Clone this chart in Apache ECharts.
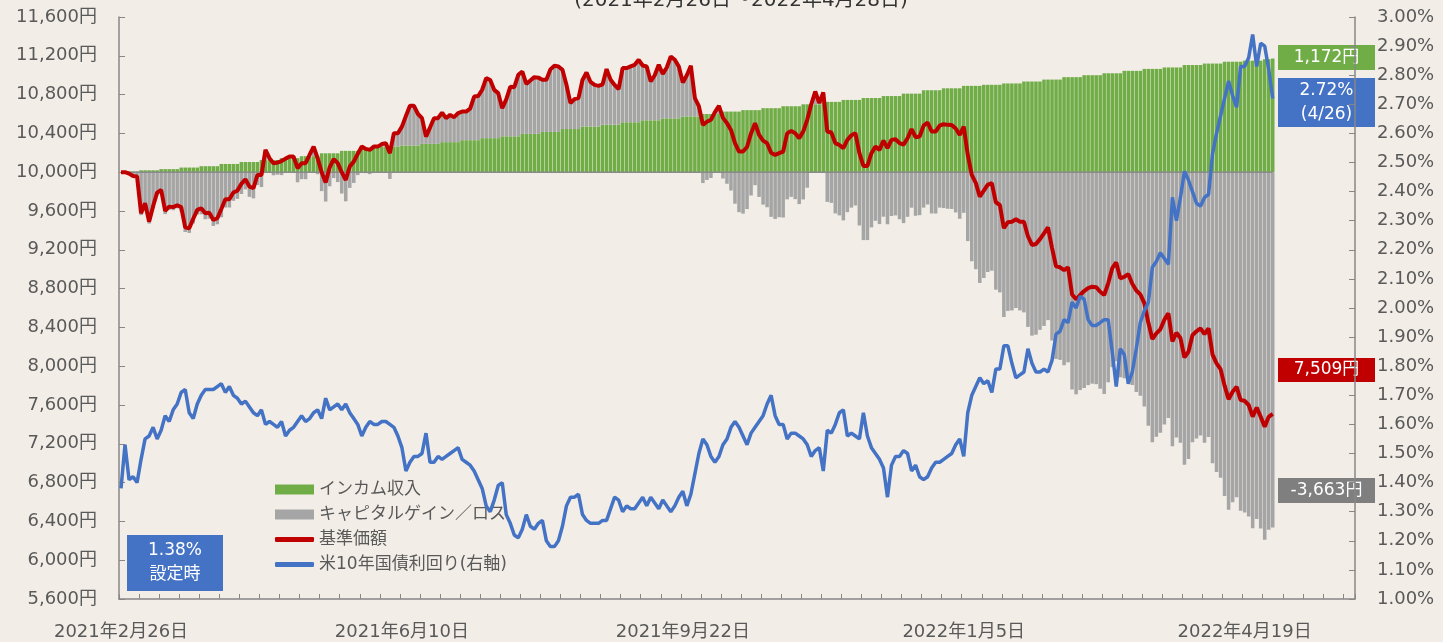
<!DOCTYPE html>
<html>
<head>
<meta charset="utf-8">
<script src="https://cdn.jsdelivr.net/npm/echarts@6/dist/echarts.min.js"></script>
<style>
  html, body { margin: 0; padding: 0; background: #f2eee7; }
  #chart { width: 1443px; height: 642px; }
</style>
</head>
<body>
<div id="chart"></div>
<script>
// 基準価額 (円), 営業日ごと
var nav = [
    10000, 10000, 9985, 9960, 9955, 9577, 9680, 9490, 9650, 9790,
    9817, 9600, 9645, 9640, 9660, 9640, 9432, 9422, 9520, 9611,
    9628, 9577, 9583, 9508, 9525, 9620, 9721, 9721, 9790, 9810,
    9880, 9928, 9851, 9835, 9972, 9972, 10230, 10144, 10093, 10099,
    10115, 10140, 10161, 10161, 10041, 10093, 10093, 10180, 10264, 10144,
    10000, 9893, 10050, 10134, 10093, 10000, 9920, 10058, 10109, 10190,
    10264, 10240, 10230, 10264, 10264, 10290, 10299, 10196, 10402, 10402,
    10470, 10580, 10684, 10684, 10600, 10557, 10367, 10460, 10557, 10557,
    10615, 10557, 10591, 10567, 10610, 10625, 10625, 10655, 10780, 10785,
    10850, 10970, 10950, 10849, 10815, 10660, 10750, 10880, 10877, 11004,
    11038, 10911, 10945, 10980, 10975, 10953, 10953, 11060, 11097, 11090,
    11056, 10901, 10712, 10753, 10764, 10950, 11028, 10930, 10900, 10890,
    10905, 11063, 10953, 10900, 10856, 11073, 11073, 11090, 11107, 11159,
    11100, 11090, 10935, 11000, 11107, 11014, 11080, 11193, 11159, 11090,
    10925, 11000, 11097, 10764, 10680, 10488, 10520, 10540, 10620, 10684,
    10560, 10506, 10436, 10300, 10213, 10213, 10260, 10400, 10506, 10385,
    10326, 10299, 10200, 10178, 10196, 10213, 10400, 10426, 10402, 10351,
    10419, 10540, 10700, 10832, 10712, 10822, 10419, 10409, 10300, 10280,
    10248, 10333, 10380, 10402, 10196, 10065, 10065, 10196, 10264, 10230,
    10326, 10248, 10333, 10340, 10300, 10285, 10350, 10444, 10361, 10367,
    10480, 10512, 10419, 10419, 10480, 10495, 10488, 10486, 10450, 10385,
    10471, 10180, 9972, 9890, 9748, 9810, 9872, 9886, 9690, 9662,
    9422, 9485, 9490, 9515, 9490, 9490, 9340, 9250, 9260, 9310,
    9370, 9430, 9220, 9030, 9020, 8990, 9020, 8740, 8690, 8734,
    8775, 8805, 8820, 8815, 8768, 8734, 8854, 9010, 9070, 8906,
    8920, 8950, 8850, 8780, 8740, 8650, 8450, 8280, 8338, 8380,
    8480, 8545, 8255, 8345, 8290, 8090, 8149, 8320, 8360, 8390,
    8330, 8390, 8120, 8029, 7970, 7800, 7660, 7736, 7787, 7650,
    7643, 7600, 7480, 7575, 7478, 7375, 7478, 7509
];

// インカム収入 (累積, 円)
var income = [
    0, 8, 8, 8, 8, 20, 20, 20, 20, 20,
    32, 32, 32, 32, 32, 48, 48, 48, 48, 48,
    62, 62, 62, 62, 62, 85, 85, 85, 85, 85,
    105, 105, 105, 105, 105, 125, 125, 125, 125, 125,
    145, 145, 145, 145, 145, 165, 165, 165, 165, 165,
    195, 195, 195, 195, 195, 220, 220, 220, 220, 220,
    250, 250, 250, 250, 250, 265, 265, 265, 265, 265,
    275, 275, 275, 275, 275, 292, 292, 292, 292, 292,
    310, 310, 310, 310, 310, 330, 330, 330, 330, 330,
    351, 351, 351, 351, 351, 370, 370, 370, 370, 370,
    395, 395, 395, 395, 395, 415, 415, 415, 415, 415,
    445, 445, 445, 445, 445, 471, 471, 471, 471, 471,
    490, 490, 490, 490, 490, 515, 515, 515, 515, 515,
    535, 535, 535, 535, 535, 555, 555, 555, 555, 555,
    575, 575, 575, 575, 575, 600, 600, 600, 600, 600,
    625, 625, 625, 625, 625, 640, 640, 640, 640, 640,
    660, 660, 660, 660, 660, 680, 680, 680, 680, 680,
    700, 700, 700, 700, 700, 725, 725, 725, 725, 725,
    745, 745, 745, 745, 745, 765, 765, 765, 765, 765,
    785, 785, 785, 785, 785, 810, 810, 810, 810, 810,
    845, 845, 845, 845, 845, 865, 865, 865, 865, 865,
    890, 890, 890, 890, 890, 901, 901, 901, 901, 901,
    915, 915, 915, 915, 915, 935, 935, 935, 935, 935,
    955, 955, 955, 955, 955, 980, 980, 980, 980, 980,
    1000, 1000, 1000, 1000, 1000, 1020, 1020, 1020, 1020, 1020,
    1045, 1045, 1045, 1045, 1045, 1065, 1065, 1065, 1065, 1065,
    1080, 1080, 1080, 1080, 1080, 1105, 1105, 1105, 1105, 1105,
    1120, 1120, 1120, 1120, 1120, 1139, 1139, 1139, 1139, 1139,
    1150, 1150, 1150, 1150, 1150, 1165, 1165, 1172
];

// 米10年国債利回り (%)
var yield10 = [
    1.38, 1.53, 1.41, 1.42, 1.40, 1.48, 1.55, 1.56, 1.59, 1.55,
    1.58, 1.63, 1.61, 1.65, 1.67, 1.71, 1.72, 1.64, 1.62, 1.67,
    1.70, 1.72, 1.72, 1.72, 1.73, 1.74, 1.71, 1.73, 1.70, 1.69,
    1.67, 1.68, 1.66, 1.64, 1.63, 1.65, 1.60, 1.61, 1.60, 1.59,
    1.61, 1.56, 1.58, 1.59, 1.61, 1.63, 1.61, 1.62, 1.64, 1.65,
    1.62, 1.69, 1.65, 1.66, 1.67, 1.65, 1.67, 1.64, 1.62, 1.60,
    1.56, 1.59, 1.61, 1.60, 1.60, 1.61, 1.61, 1.60, 1.59, 1.56,
    1.52, 1.44, 1.47, 1.49, 1.49, 1.50, 1.57, 1.47, 1.47, 1.49,
    1.48, 1.49, 1.50, 1.51, 1.52, 1.48, 1.47, 1.46, 1.44, 1.41,
    1.38, 1.32, 1.30, 1.34, 1.39, 1.40, 1.29, 1.26, 1.22, 1.21,
    1.24, 1.29, 1.25, 1.24, 1.26, 1.27, 1.20, 1.18, 1.18, 1.20,
    1.25, 1.32, 1.35, 1.35, 1.36, 1.29, 1.27, 1.26, 1.26, 1.26,
    1.27, 1.27, 1.31, 1.35, 1.34, 1.30, 1.32, 1.31, 1.31, 1.33,
    1.35, 1.32, 1.35, 1.33, 1.31, 1.34, 1.32, 1.30, 1.32, 1.35,
    1.37, 1.32, 1.36, 1.43, 1.50, 1.55, 1.53, 1.49, 1.47, 1.49,
    1.53, 1.55, 1.59, 1.61, 1.59, 1.56, 1.53, 1.57, 1.59, 1.61,
    1.63, 1.67, 1.70, 1.63, 1.60, 1.60, 1.55, 1.57, 1.57, 1.56,
    1.55, 1.53, 1.49, 1.51, 1.52, 1.44, 1.58, 1.57, 1.60, 1.64,
    1.65, 1.56, 1.57, 1.56, 1.55, 1.64, 1.56, 1.52, 1.50, 1.48,
    1.45, 1.35, 1.46, 1.49, 1.49, 1.51, 1.50, 1.44, 1.46, 1.42,
    1.41, 1.42, 1.45, 1.47, 1.47, 1.48, 1.49, 1.50, 1.53, 1.55,
    1.49, 1.64, 1.70, 1.73, 1.76, 1.74, 1.75, 1.71, 1.79, 1.79,
    1.87, 1.87, 1.81, 1.76, 1.77, 1.78, 1.86, 1.81, 1.78, 1.78,
    1.79, 1.78, 1.82, 1.91, 1.92, 1.96, 1.95, 2.02, 2.00, 2.04,
    2.03, 1.96, 1.94, 1.94, 1.95, 1.96, 1.96, 1.85, 1.73, 1.86,
    1.84, 1.74, 1.78, 1.86, 1.95, 1.99, 2.02, 2.14, 2.16, 2.19,
    2.17, 2.15, 2.38, 2.30, 2.38, 2.47, 2.44, 2.40, 2.36, 2.35,
    2.38, 2.39, 2.53, 2.60, 2.66, 2.72, 2.78, 2.73, 2.69, 2.83,
    2.83, 2.86, 2.94, 2.83, 2.91, 2.90, 2.82, 2.72
];

// 国内の休業日 (営業日カレンダー用)
var holidays = [
    '2021-03-20', '2021-04-29', '2021-05-03', '2021-05-04', '2021-05-05',
    '2021-07-22', '2021-07-23', '2021-08-09', '2021-09-20', '2021-09-23',
    '2021-11-03', '2021-11-23', '2021-12-31', '2022-01-03', '2022-01-10',
    '2022-02-11', '2022-02-23', '2022-03-21', '2022-04-29', '2022-05-03',
    '2022-05-04', '2022-05-05'
];
var startDate = '2021-02-26';
var categoryCount = 308;
var legendNames = ['インカム収入', 'キャピタルゲイン／ロス', '基準価額', '米10年国債利回り(右軸)'];
var titleText = '(2021年2月26日～2022年4月28日)';

var BASE = 10000;
var FONT = "'DejaVu Sans', 'Noto Sans CJK JP', sans-serif";
var C_GREEN = '#70ad47', C_GRAY = '#a5a5a5', C_RED = '#c00000', C_BLUE = '#4472c4';
var C_TEXT = '#595959', C_AXIS = '#878787';

function pad(n) { return (n < 10 ? '0' : '') + n; }

var dates = [];
var d = new Date(startDate + 'T00:00:00Z');
while (dates.length < categoryCount) {
    var key = d.getUTCFullYear() + '-' + pad(d.getUTCMonth() + 1) + '-' + pad(d.getUTCDate());
    var wd = d.getUTCDay();
    if (wd !== 0 && wd !== 6 && holidays.indexOf(key) < 0) dates.push(key);
    d = new Date(d.getTime() + 86400000);
}

// 基準価額 = 10,000 + インカム + キャピタル
var capital = nav.map(function (v, i) { return v - BASE - income[i]; });
var navRel = nav.map(function (v) { return v - BASE; });
// 10,000円の基準線 (データ期間のみ)
var baseLine = [[0, 0], [nav.length - 1, 0]];

var last = nav.length - 1;
function yen(v) { return v.toLocaleString('en-US') + '円'; }

function box(x, y, w, h, color, text) {
    return {
        type: 'group', left: x, top: y, silent: true,
        children: [
            { type: 'rect', shape: { x: 0, y: 0, width: w, height: h }, style: { fill: color } },
            {
                type: 'text', x: w / 2, y: h / 2,
                style: {
                    text: text, fill: '#fff', font: '17px ' + FONT,
                    align: 'center', verticalAlign: 'middle', lineHeight: 24
                }
            }
        ]
    };
}

var legendText = { color: C_TEXT, fontSize: 17, fontFamily: FONT, lineHeight: 25 };

var chart = echarts.init(document.getElementById('chart'));
var option = {
    backgroundColor: '#f2eee7',
    animation: false,
    grid: { left: 119, right: 88, top: 17, bottom: 43 },
    legend: [
        {
            orient: 'vertical', left: 270, top: 472, itemGap: 0,
            itemWidth: 39, itemHeight: 10, textStyle: legendText,
            data: [
                { name: legendNames[0], icon: 'rect' },
                { name: legendNames[1], icon: 'rect' }
            ]
        },
        {
            orient: 'vertical', left: 270, top: 522, itemGap: 0,
            itemWidth: 39, itemHeight: 5, textStyle: legendText,
            data: [
                { name: legendNames[2], icon: 'roundRect' },
                { name: legendNames[3], icon: 'roundRect' }
            ]
        }
    ],
    xAxis: {
        type: 'category',
        position: 'bottom',
        data: dates,
        boundaryGap: true,
        axisLine: { show: true, onZero: false, lineStyle: { color: C_AXIS, width: 1.5 } },
        axisTick: { show: true, inside: true, length: 5, interval: 4, lineStyle: { color: C_AXIS, width: 1 } },
        axisLabel: {
            interval: 69, margin: 24, color: C_TEXT, fontSize: 18, fontFamily: FONT,
            formatter: function (v) {
                var p = v.split('-');
                return p[0] + '年' + (+p[1]) + '月' + (+p[2]) + '日';
            }
        },
        splitLine: { show: false }
    },
    yAxis: [
        {
            type: 'value', min: -4400, max: 1600, interval: 400,
            axisLine: { show: true, lineStyle: { color: C_AXIS, width: 1.5 } },
            axisTick: { show: true, inside: true, length: 6, lineStyle: { color: C_AXIS } },
            axisLabel: {
                margin: 22, color: C_TEXT, fontSize: 18, fontFamily: FONT,
                formatter: function (v) { return yen(Math.round(v + BASE)); }
            },
            splitLine: { show: false }
        },
        {
            type: 'value', min: 1, max: 3, interval: 0.1, position: 'right',
            axisLine: { show: true, lineStyle: { color: C_AXIS, width: 1.5 } },
            axisTick: { show: true, inside: true, length: 6, lineStyle: { color: C_AXIS } },
            axisLabel: {
                margin: 22, color: C_TEXT, fontSize: 18, fontFamily: FONT,
                formatter: function (v) { return v.toFixed(2) + '%'; }
            },
            splitLine: { show: false }
        }
    ],
    series: [
        {
            name: legendNames[0], type: 'bar', stack: 'total', data: income,
            itemStyle: { color: C_GREEN }, barCategoryGap: '12%'
        },
        {
            name: legendNames[1], type: 'bar', stack: 'total', data: capital,
            itemStyle: { color: C_GRAY }, barCategoryGap: '12%'
        },
        {
            name: 'baseline', type: 'line', data: baseLine, symbol: 'none', silent: true,
            lineStyle: { color: '#8a8a8a', width: 1.5 }, z: 3
        },
        {
            name: legendNames[2], type: 'line', data: navRel, symbol: 'none',
            lineStyle: { color: C_RED, width: 4 }, itemStyle: { color: C_RED }, z: 4
        },
        {
            name: legendNames[3], type: 'line', yAxisIndex: 1, data: yield10, symbol: 'none',
            lineStyle: { color: C_BLUE, width: 3.5 }, itemStyle: { color: C_BLUE }, z: 5
        }
    ],
    graphic: [
        {
            type: 'text', x: 741, y: -9, silent: true,
            style: { text: titleText, fill: '#333', font: '20px ' + FONT, align: 'center' }
        },
        box(1278, 45, 97, 25, C_GREEN, yen(income[last])),
        box(1278, 78, 97, 49, C_BLUE, yield10[last].toFixed(2) + '%\n(4/26)'),
        box(1278, 358, 97, 24, C_RED, yen(nav[last])),
        box(1278, 478, 97, 25, '#7f7f7f', yen(capital[last])),
        box(127, 535, 96, 56, C_BLUE, yield10[0].toFixed(2) + '%\n設定時')
    ]
};
chart.setOption(option);
</script>
</body>
</html>
